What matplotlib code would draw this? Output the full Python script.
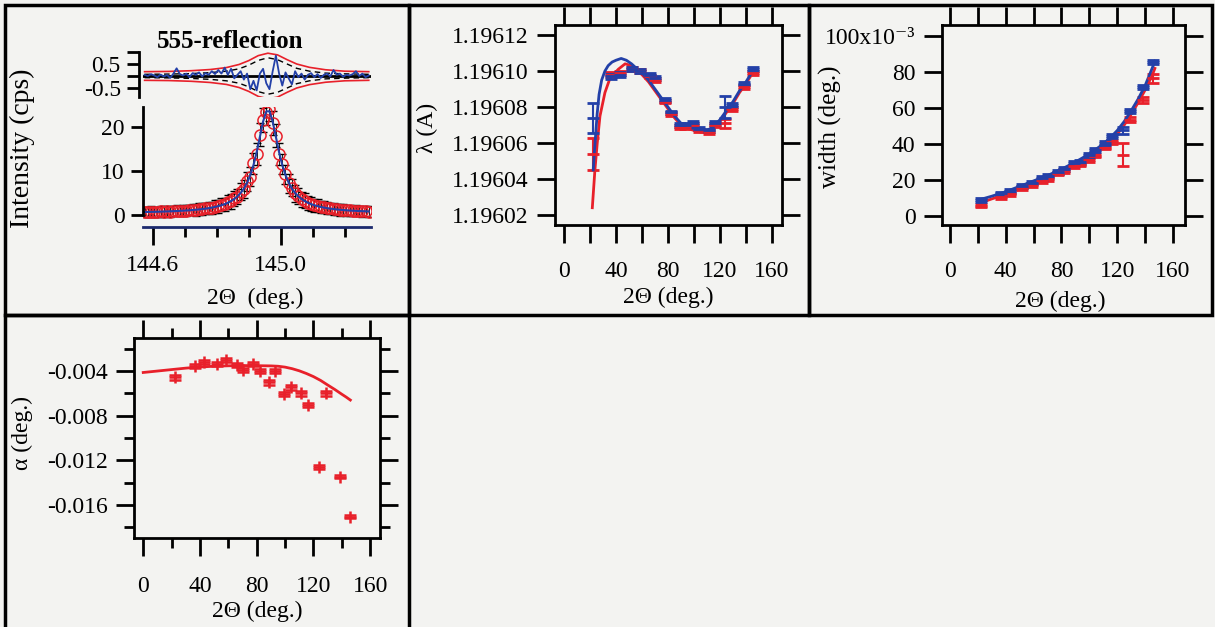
import matplotlib
matplotlib.use("Agg")
import matplotlib.pyplot as plt
from matplotlib.patches import Rectangle
from matplotlib.ticker import FixedLocator, MultipleLocator, FuncFormatter

plt.rcParams["font.family"] = ["Liberation Serif", "DejaVu Serif"]
plt.rcParams["font.size"] = 17

W, H = 1215, 627
BG = "#f3f3f1"
RED = "#e8202a"
BLUE = "#2340a8"
NAVY = "#1c2a6e"

# ------------------------------------------------------------
# data: 555 reflection profile
# ------------------------------------------------------------
peak_x = [144.575 + 0.01 * i for i in range(71)]
peak_obs = [0.73, 0.65, 0.77, 0.72, 0.69, 0.84, 0.76, 0.86, 0.78, 0.91,
            0.97, 0.89, 1.01, 0.98, 1.13, 1.15, 1.14, 1.34, 1.32, 1.49,
            1.65, 1.62, 1.92, 1.97, 2.34, 2.39, 2.93, 3.07, 3.84, 4.19,
            5.26, 5.86, 7.62, 8.71, 11.74, 13.97, 18.25, 21.64, 23.37, 24.17,
            20.84, 18.05, 13.92, 11.59, 9.26, 7.17, 6.21, 4.89, 4.34, 3.56,
            3.26, 2.72, 2.55, 2.17, 2.08, 1.79, 1.74, 1.50, 1.49, 1.32,
            1.30, 1.14, 1.19, 1.05, 1.06, 0.93, 0.97, 0.95, 0.83, 0.87, 0.79]
peak_err = [1.2, 1.2, 1.2, 1.2, 1.2, 1.2, 1.2, 1.2, 1.2, 1.2,
            1.2, 1.2, 1.22, 1.22, 1.24, 1.25, 1.26, 1.28, 1.3, 1.32,
            1.35, 1.38, 1.42, 1.46, 1.5, 1.55, 1.6, 1.66, 1.72, 1.8,
            1.9, 2.0, 2.1, 2.2, 2.35, 2.5, 2.65, 2.75, 2.8, 2.8,
            2.75, 2.65, 2.5, 2.35, 2.2, 2.1, 2.0, 1.9, 1.8, 1.72,
            1.66, 1.6, 1.55, 1.5, 1.46, 1.42, 1.38, 1.35, 1.32, 1.3,
            1.28, 1.26, 1.25, 1.24, 1.22, 1.22, 1.2, 1.2, 1.2, 1.2, 1.2]
peak_fit = [0.68, 0.69, 0.71, 0.72, 0.74, 0.76, 0.79, 0.81, 0.84, 0.87,
            0.90, 0.94, 0.98, 1.02, 1.07, 1.13, 1.19, 1.26, 1.35, 1.44,
            1.55, 1.68, 1.83, 2.01, 2.22, 2.47, 2.78, 3.17, 3.64, 4.24,
            5.01, 6.01, 7.32, 9.06, 11.34, 14.27, 17.75, 21.24, 23.57, 23.57,
            21.24, 17.75, 14.27, 11.34, 9.06, 7.32, 6.01, 5.01, 4.24, 3.64,
            3.17, 2.78, 2.47, 2.22, 2.01, 1.83, 1.68, 1.55, 1.44, 1.35,
            1.26, 1.19, 1.13, 1.07, 1.02, 0.98, 0.94, 0.90, 0.87, 0.84, 0.81]
resid = [0.05, 0.0, 0.08, 0.02, -0.05, 0.06, -0.02, 0.04, -0.08, 0.1,
         0.32, 0.08, 0.02, 0.1, -0.05, 0.12, 0.05, 0.15, -0.02, 0.12,
         0.05, 0.2, 0.08, 0.25, 0.1, 0.35, 0.05, 0.3, -0.1, 0.05,
         0.2, -0.15, 0.1, -0.55, -0.2, -0.6, 0.1, 0.3, -0.3, -0.55,
         0.2, 0.85, 0.1, -0.4, 0.15, -0.1, -0.35, 0.2, -0.05, 0.1,
         -0.15, 0.05, 0.12, -0.05, 0.08, -0.08, 0.05, 0.1, -0.02, 0.25,
         0.05, 0.1, -0.03, 0.05, 0.02, 0.08, 0.2, 0.0, 0.1, -0.05, 0.02]
env_x = [144.575, 144.65, 144.72, 144.78, 144.83, 144.87, 144.90, 144.93,
         144.96, 144.99, 145.02, 145.05, 145.09, 145.14, 145.20, 145.275]
env_red = [0.18, 0.19, 0.22, 0.27, 0.35, 0.48, 0.64, 0.85,
           0.95, 0.88, 0.68, 0.5, 0.36, 0.26, 0.2, 0.18]
env_dash = [0.07, 0.08, 0.1, 0.14, 0.2, 0.3, 0.45, 0.65,
            0.76, 0.68, 0.5, 0.32, 0.2, 0.12, 0.09, 0.07]

# ------------------------------------------------------------
# data: parameters vs 2theta
# ------------------------------------------------------------
tth = [22.5, 36.5, 43, 52, 58.5, 66, 70, 77.5, 82, 89, 93, 99.5, 104,
       111.5, 116.5, 124, 129, 138.5, 145.5]

lam_blue = [1.196074, 1.196097, 1.196098, 1.196101, 1.196100, 1.196098, 1.196096,
            1.196084, 1.196077, 1.196070, 1.196070, 1.196071, 1.196068, 1.196067,
            1.196071, 1.196080, 1.196081, 1.196093, 1.196101]
lam_blue_err = [0.0000085, 0.0000012, 0.0000012, 0.000001, 0.000001, 0.000001, 0.000001,
                0.000001, 0.000001, 0.000001, 0.000001, 0.000001, 0.000001, 0.000001,
                0.000001, 0.000006, 0.000001, 0.000001, 0.000001]
lam_red = [1.196054, 1.196098, 1.196099, 1.196101, 1.196100, 1.196097, 1.196095,
           1.196083, 1.196076, 1.196069, 1.196069, 1.196070, 1.196067, 1.196066,
           1.196070, 1.196071, 1.196079, 1.196091, 1.196099]
lam_red_err = [0.000009, 0.0000012, 0.0000012, 0.000001, 0.000001, 0.000001, 0.000001,
               0.000001, 0.000001, 0.000001, 0.000001, 0.000001, 0.000001, 0.000001,
               0.000001, 0.0000025, 0.000001, 0.000001, 0.000001]
lam_blue_fit_x = [22.5, 23.5, 24.5, 25.5, 27, 29, 31.5, 34, 37, 40, 44, 48, 52, 55, 60,
                  65, 70, 75, 80, 85, 90, 95, 100, 105, 110, 115, 120, 125, 130,
                  135, 140, 146]
lam_blue_fit = [1.196045, 1.196056, 1.196066, 1.196076, 1.196087, 1.196095, 1.196100,
                1.196103, 1.196105, 1.196106, 1.196107, 1.196106, 1.196104, 1.196102,
                1.196099, 1.196095, 1.196090, 1.196085, 1.196080, 1.196075, 1.196071,
                1.196069, 1.196068, 1.196067, 1.196067, 1.196069, 1.196073, 1.196078,
                1.196083, 1.196089, 1.196094, 1.196101]
lam_red_fit_x = [21.8, 23.8, 25.6, 27.7, 31.5, 35.4, 41.8, 47, 52, 55, 60, 65, 70, 75,
                 80, 85, 90, 95, 100, 105, 110, 115, 120, 125, 130, 135, 140, 146]
lam_red_fit = [1.196024, 1.196045, 1.196060, 1.196075, 1.196088, 1.196096, 1.196101,
               1.196104, 1.196103, 1.196101, 1.196098, 1.196094, 1.196089, 1.196084,
               1.196079, 1.196074, 1.196070, 1.196068, 1.196067, 1.196066, 1.196066,
               1.196068, 1.196072, 1.196077, 1.196082, 1.196088, 1.196093, 1.196100]

wid_blue = [9.0, 12.6, 14.0, 16.8, 18.5, 21.0, 22.2, 24.5, 26.0, 29.5, 30.0, 34.0, 36.5,
            40.5, 44.5, 47.5, 58.5, 71.5, 85.5]
wid_blue_err = [1.0, 1.0, 1.0, 1.0, 1.0, 1.0, 1.0, 1.0, 1.0, 1.0, 1.0, 1.0, 1.0,
                1.0, 1.0, 2.0, 1.2, 1.2, 1.2]
wid_red = [5.8, 10.5, 12.0, 15.5, 17.0, 19.5, 20.5, 23.5, 25.0, 27.5, 28.5, 31.0, 33.5,
           38.0, 41.0, 34.0, 53.5, 64.5, 76.5]
wid_red_err = [1.0, 1.0, 1.0, 1.0, 1.0, 1.0, 1.0, 1.0, 1.0, 1.0, 1.0, 1.0, 1.0,
               1.0, 1.0, 6.5, 1.5, 1.5, 2.5]
wid_blue_fit_x = [21, 30, 40, 50, 60, 70, 80, 90, 100, 110, 115, 120, 125, 130, 135,
                  140, 145, 147]
wid_blue_fit = [9, 11, 13.5, 16.5, 19.5, 22.5, 26, 30, 34.5, 40, 43.5, 47.5, 52.5, 58.5,
                65, 72.5, 82, 86]
wid_red_fit_x = [21, 30, 40, 50, 60, 70, 80, 90, 100, 110, 120, 125, 130, 135, 140,
                 145, 147]
wid_red_fit = [7, 9.5, 12, 15, 18, 21, 24.5, 28, 32.5, 38, 45.5, 50.5, 56.5, 63, 70,
               78, 82]

alpha = [-0.00457, -0.00353, -0.00317, -0.00337, -0.00302, -0.00346, -0.00391,
         -0.00337, -0.00400, -0.00501, -0.00400, -0.00606, -0.00546, -0.00600,
         -0.00704, -0.01260, -0.00600, -0.01346, -0.01705]
alpha_err = [0.0002, 0.0002, 0.0002, 0.0002, 0.0002, 0.0002, 0.0002, 0.0002, 0.0002,
             0.0002, 0.0002, 0.0002, 0.0002, 0.0002, 0.0002, 0.00015, 0.00025, 0.00015,
             0.00015]
alpha_fit_x = [0, 10, 20, 30, 40, 50, 60, 70, 80, 90, 95, 100, 105, 110, 115, 120,
               125, 130, 135, 140, 143, 146]
alpha_fit = [-0.00413, -0.00400, -0.00387, -0.00374, -0.00364, -0.00357, -0.00353,
             -0.00351, -0.00352, -0.00354, -0.00357, -0.00365, -0.00379, -0.00398,
             -0.00422, -0.00450, -0.00484, -0.00525, -0.00565, -0.00608, -0.00633,
             -0.00660]


def px_axes(fig, x0, y0, x1, y1):
    return fig.add_axes([x0 / W, 1 - y1 / H, (x1 - x0) / W, (y1 - y0) / H])


def boxed(ax, xlim, ylim, xpad=13):
    ax.set_xlim(*xlim)
    ax.set_ylim(*ylim)
    ax.patch.set_alpha(0)
    for side in ["left", "right", "top", "bottom"]:
        ax.spines[side].set_linewidth(2)
    ax.tick_params(which="both", direction="out", top=True, right=True,
                   width=2, length=13)
    ax.tick_params(axis="x", which="both", pad=xpad)
    ax.tick_params(axis="y", which="both", pad=6)


def label_at(ax, box, xlab, xlab_px, ylab, ylab_px, ysize=17):
    x0, y0, x1, y1 = box
    ax.set_xlabel(xlab, va="center", ha="center")
    ax.xaxis.set_label_coords((xlab_px[0] - x0) / (x1 - x0), (y1 - xlab_px[1]) / (y1 - y0))
    ax.set_ylabel(ylab, va="center", ha="center", fontsize=ysize)
    ax.yaxis.set_label_coords((ylab_px[0] - x0) / (x1 - x0), (y1 - ylab_px[1]) / (y1 - y0))


fig = plt.figure(figsize=(W / 100, H / 100), dpi=100, facecolor=BG)

# panel frames
for (x0, y0, x1, y1) in [(5, 5, 409, 315), (409, 5, 809, 315), (809, 5, 1212, 315),
                         (5, 315, 409, 630)]:
    fig.add_artist(Rectangle((x0 / W, 1 - y1 / H), (x1 - x0) / W, (y1 - y0) / H,
                             transform=fig.transFigure, fill=False, ec="black", lw=2.5))

# ------------------------------------------------------------
# panel 1: peak profile + residual
# ------------------------------------------------------------
box1 = (143, 107, 371, 227)
ax1 = px_axes(fig, *box1)
ax1.patch.set_alpha(0)
ax1.set_xlim(144.570, 145.282)
ax1.set_ylim(-2.73, 24.55)
ax1.errorbar(peak_x, peak_obs, yerr=peak_err, fmt="none", ecolor="black",
             elinewidth=0.6, capsize=3, capthick=1)
ax1.plot(peak_x, peak_obs, "o", mfc="none", mec=RED, ms=8, mew=1.1)
ax1.plot(peak_x, peak_fit, color=BLUE, lw=1.5)
ax1.spines["top"].set_visible(False)
ax1.spines["right"].set_visible(False)
ax1.spines["left"].set_linewidth(2)
ax1.spines["left"].set_bounds(0, 24.55)
ax1.spines["bottom"].set_linewidth(2)
ax1.spines["bottom"].set_color(NAVY)
ax1.xaxis.set_major_locator(FixedLocator([144.6, 145.0]))
ax1.xaxis.set_minor_locator(FixedLocator([144.7, 144.8, 144.9, 145.1, 145.2]))
ax1.xaxis.set_major_formatter(FuncFormatter(lambda v, p: f"{v:.1f}"))
ax1.yaxis.set_major_locator(FixedLocator([0, 10, 20]))
ax1.tick_params(axis="x", which="major", direction="out", length=13, width=2, pad=7)
ax1.tick_params(axis="x", which="minor", direction="out", length=7, width=2)
ax1.tick_params(axis="y", direction="out", length=9, width=2, pad=4)
label_at(ax1, box1, "2Θ  (deg.)", (255, 298), "Intensity (cps)", (22, 148), ysize=20)

box0 = (143, 52, 371, 97)
ax0 = px_axes(fig, *box0)
ax0.patch.set_alpha(0)
ax0.set_xlim(144.570, 145.282)
ax0.set_ylim(-0.875, 1.0)
ax0.axhline(0, color="black", lw=2)
ax0.plot(env_x, env_red, color=RED, lw=1.2)
ax0.plot(env_x, [-v for v in env_red], color=RED, lw=1.2)
ax0.plot(env_x, env_dash, color="black", lw=1, ls=(0, (4, 3)))
ax0.plot(env_x, [-v for v in env_dash], color="black", lw=1, ls=(0, (4, 3)))
ax0.plot(peak_x, resid, color=BLUE, lw=1.3)
for side in ["top", "right", "bottom"]:
    ax0.spines[side].set_visible(False)
ax0.spines["left"].set_position(("outward", 3))
ax0.spines["left"].set_linewidth(2)
ax0.set_xticks([])
ax0.yaxis.set_major_locator(FixedLocator([-0.5, 0, 0.5, 1.0]))
ax0.yaxis.set_major_formatter(FuncFormatter(lambda v, p: f"{v:.1f}" if abs(v) == 0.5 else ""))
ax0.tick_params(axis="y", direction="out", length=9, width=2, pad=4)
fig.text(230 / W, 1 - 42 / H, "555-reflection", ha="center", va="center",
         fontsize=18, fontweight="bold")

# ------------------------------------------------------------
# panel 2: wavelength
# ------------------------------------------------------------
box2 = (555, 25, 782, 225)
ax2 = px_axes(fig, *box2)
boxed(ax2, (-6.9, 167.7), (1.1960144, 1.1961256))
ax2.plot(lam_red_fit_x, lam_red_fit, color=RED, lw=2)
ax2.errorbar(tth, lam_red, yerr=lam_red_err, fmt="_", color=RED, ms=9, mew=2,
             elinewidth=1.5, capsize=4, capthick=1.5)
ax2.plot(lam_blue_fit_x, lam_blue_fit, color=BLUE, lw=2)
ax2.errorbar(tth, lam_blue, yerr=lam_blue_err, fmt="_", color=BLUE, ms=9, mew=2,
             elinewidth=1.5, capsize=4, capthick=1.5)
ax2.xaxis.set_major_locator(MultipleLocator(20))
ax2.xaxis.set_major_formatter(
    FuncFormatter(lambda v, p: f"{v:.0f}" if round(v) % 40 == 0 else ""))
ax2.yaxis.set_major_locator(FixedLocator([1.19602, 1.19604, 1.19606, 1.19608, 1.19610, 1.19612]))
ax2.yaxis.set_major_formatter(FuncFormatter(lambda v, p: f"{v:.5f}"))
label_at(ax2, box2, "2Θ (deg.)", (668, 297), "λ (A)", (427, 128))

# ------------------------------------------------------------
# panel 3: width
# ------------------------------------------------------------
box3 = (942, 25, 1185, 225)
ax3 = px_axes(fig, *box3)
boxed(ax3, (-5.7, 168.6), (-5, 106.1))
ax3.plot(wid_red_fit_x, wid_red_fit, color=RED, lw=2)
ax3.errorbar(tth, wid_red, yerr=wid_red_err, fmt="_", color=RED, ms=9, mew=2,
             elinewidth=1.5, capsize=4, capthick=1.5)
ax3.plot(wid_blue_fit_x, wid_blue_fit, color=BLUE, lw=2)
ax3.errorbar(tth, wid_blue, yerr=wid_blue_err, fmt="_", color=BLUE, ms=9, mew=2,
             elinewidth=1.5, capsize=4, capthick=1.5)
ax3.xaxis.set_major_locator(MultipleLocator(20))
ax3.xaxis.set_major_formatter(
    FuncFormatter(lambda v, p: f"{v:.0f}" if round(v) % 40 == 0 else ""))
ax3.yaxis.set_major_locator(FixedLocator([0, 20, 40, 60, 80, 100]))
ax3.yaxis.set_major_formatter(
    FuncFormatter(lambda v, p: "100x10⁻³" if round(v) == 100 else f"{v:.0f}"))
label_at(ax3, box3, "2Θ (deg.)", (1060, 301), "width (deg.)", (830, 127), ysize=18)

# ------------------------------------------------------------
# panel 4: alpha
# ------------------------------------------------------------
box4 = (134, 338, 380, 538)
ax4 = px_axes(fig, *box4)
boxed(ax4, (-6.5, 166.9), (-0.01896, -0.00104), xpad=14)
ax4.plot(alpha_fit_x, alpha_fit, color=RED, lw=2)
ax4.errorbar(tth, alpha, yerr=alpha_err, fmt="+", color=RED, ms=9, mew=1.8,
             elinewidth=1.5, capsize=4, capthick=1.8)
ax4.xaxis.set_major_locator(MultipleLocator(40))
ax4.xaxis.set_minor_locator(FixedLocator([20, 60, 100, 140]))
ax4.xaxis.set_major_formatter(FuncFormatter(lambda v, p: f"{v:.0f}"))
ax4.yaxis.set_major_locator(FixedLocator([-0.016, -0.012, -0.008, -0.004]))
ax4.yaxis.set_minor_locator(FixedLocator([-0.018, -0.014, -0.010, -0.006, -0.002]))
ax4.yaxis.set_major_formatter(FuncFormatter(lambda v, p: f"{v:.3f}"))
ax4.tick_params(which="major", length=13)
ax4.tick_params(which="minor", length=7)
label_at(ax4, box4, "2Θ (deg.)", (257, 611), "α (deg.)", (22, 433))

fig.savefig("out.png", dpi=100, facecolor=BG)
